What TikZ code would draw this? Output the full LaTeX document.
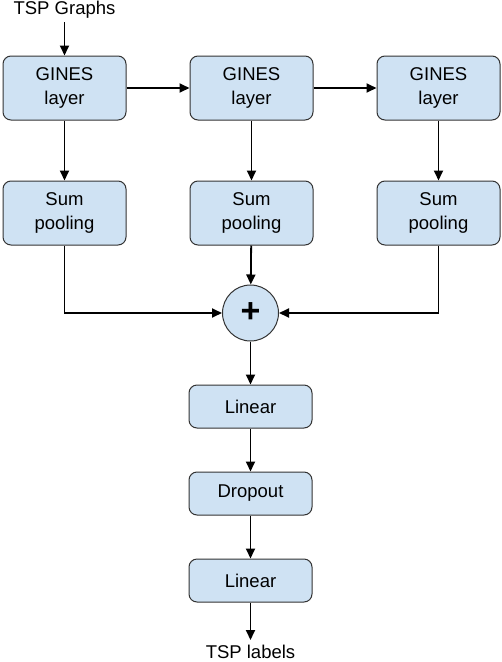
\documentclass[tikz,border=0pt]{standalone}
\usepackage{fontspec}
\setmainfont{Liberation Sans}
\usetikzlibrary{arrows.meta,positioning}
\definecolor{boxblue}{HTML}{CFE2F3}
\definecolor{boxline}{HTML}{333333}

\begin{document}
\begin{tikzpicture}[x=1pt, y=1pt, >={Triangle[length=10pt,width=9pt]},
  every node/.style={font=\fontsize{18.5}{24}\selectfont},
  box/.style={draw=boxline, line width=1pt, fill=boxblue, rounded corners=8pt,
    minimum width=123pt, align=center, inner sep=0pt},
  tall/.style={box, minimum height=64pt},
  flat/.style={box, minimum height=43pt},
  conn/.style={->, line width=1.8pt}]
  \useasboundingbox (0,0) rectangle (502,-662);

  % three GINES layers with their pooling
  \node[tall] (g1) at (64.5,-88) {GINES\\layer};
  \node[tall, right=63pt of g1] (g2) {GINES\\layer};
  \node[tall, right=63pt of g2] (g3) {GINES\\layer};
  \node[tall, below=60pt of g1] (p1) {Sum\\pooling};
  \node[tall, below=60pt of g2] (p2) {Sum\\pooling};
  \node[tall, below=60pt of g3] (p3) {Sum\\pooling};

  \node[circle, draw=boxline, line width=1pt, fill=boxblue, minimum size=56pt, inner sep=0pt]
    (sum) at (250.5,-313) {\fontsize{34}{34}\selectfont\bfseries +};

  \node[flat, below=43pt of sum] (lin1) {Linear};
  \node[flat, below=43pt of lin1] (drop) {Dropout};
  \node[flat, below=43pt of drop] (lin2) {Linear};

  \node (inp) at (64.5,-10) {TSP Graphs};
  \node (out) at (250.5,-652) {TSP labels};
  \coordinate (outend) at (250.5,-640);

  \draw[conn] (inp) -- (g1);
  \draw[conn] (g1) -- (g2);
  \draw[conn] (g2) -- (g3);
  \foreach \i in {1,2,3}
    \draw[conn] (g\i) -- (p\i);
  \draw[conn] (p1) |- (sum);
  \draw[conn] (p2) -- (sum);
  \draw[conn] (p3) |- (sum);
  \draw[conn] (sum) -- (lin1);
  \draw[conn] (lin1) -- (drop);
  \draw[conn] (drop) -- (lin2);
  \draw[conn] (lin2) -- (outend);
\end{tikzpicture}
\end{document}
